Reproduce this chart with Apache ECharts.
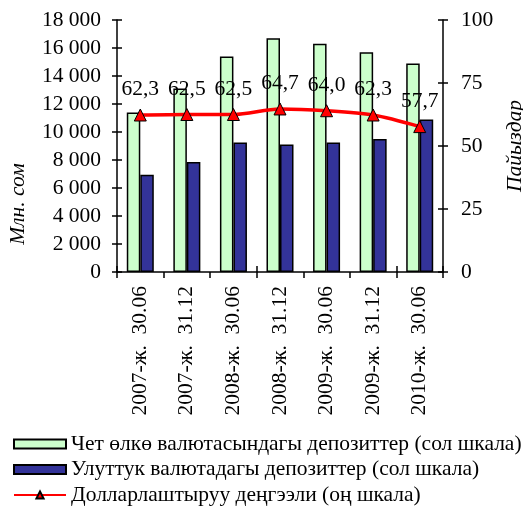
<!DOCTYPE html>
<html><head><meta charset="utf-8">
<script src="https://cdn.jsdelivr.net/npm/echarts@6/dist/echarts.min.js"></script>
<style>html,body{margin:0;padding:0;background:#fff}#c{width:523px;height:518px}</style>
</head><body><div id="c"></div>
<script>
var categories = ['2007-ж.  30.06','2007-ж.  31.12','2008-ж.  30.06','2008-ж.  31.12','2009-ж.  30.06','2009-ж.  31.12','2010-ж.  30.06'];
var foreignDeposits = [11400, 13100, 15400, 16700, 16300, 15700, 14900];
var nationalDeposits = [6950, 7850, 9250, 9100, 9250, 9500, 10900];
var dollarization = [62.3, 62.5, 62.5, 64.7, 64.0, 62.3, 57.7];
var leftTicks = [0, 18000, 2000];
var rightTicks = [0, 100, 25];
var names = ['Чет өлкө валютасындагы депозиттер (сол шкала)','Улуттук валютадагы депозиттер (сол шкала)','Долларлаштыруу деңгээли (оң шкала)'];
var leftAxisName = 'Млн. сом';
var rightAxisName = 'Пайыздар';

var F = 'Liberation Serif, Times New Roman, serif';
var FS = 21.5;
var chart = echarts.init(document.getElementById('c'));
function fmtThousands(v){ return String(v).replace(/\B(?=(\d{3})+(?!\d))/g, ' '); }
var axisLine = {show:true, lineStyle:{color:'#000', width:1.5}};
chart.setOption({
  backgroundColor:'#fff',
  animation:false,
  textStyle:{fontFamily:F},
  grid:{left:117, right:80, top:20, bottom:246, containLabel:false, outerBoundsMode:'none'},
  graphic:[{
    type:'text', x:18, y:204, rotation:Math.PI/2,
    style:{text:leftAxisName, fontFamily:F, fontSize:FS, fontStyle:'italic', fill:'#000', align:'center', verticalAlign:'middle'}
  }],
  legend:{
    orient:'vertical', left:13, top:433, padding:0, itemWidth:52, itemHeight:9, itemGap:3.5,
    textStyle:{fontFamily:F, fontSize:FS, color:'#000'},
    data:[{name:names[0], icon:'rect'},{name:names[1], icon:'rect'},{name:names[2]}]
  },
  xAxis:[{
    type:'category', data:categories,
    axisLine:axisLine,
    axisTick:{show:true, alignWithLabel:false, length:6, lineStyle:{color:'#000', width:1.5}},
    axisLabel:{rotate:90, fontFamily:F, fontSize:FS, color:'#000', margin:14}
  },{
    type:'category', data:categories, position:'bottom',
    axisLine:{show:false}, axisLabel:{show:false},
    axisTick:{show:true, inside:true, length:6, lineStyle:{color:'#000', width:1.5}}
  }],
  yAxis:[{
    type:'value', min:leftTicks[0], max:leftTicks[1], interval:leftTicks[2],
    axisLine:axisLine, splitLine:{show:false},
    axisTick:{show:true, length:5, lineStyle:{color:'#000', width:1.5}},
    axisLabel:{fontFamily:F, fontSize:FS, color:'#000', margin:16, formatter:fmtThousands}
  },{
    type:'value', position:'right', min:rightTicks[0], max:rightTicks[1], interval:rightTicks[2],
    name:rightAxisName, nameLocation:'middle', nameGap:60, nameRotate:90,
    nameTextStyle:{fontFamily:F, fontSize:FS, fontStyle:'italic', color:'#000'},
    axisLine:axisLine, splitLine:{show:false},
    axisTick:{show:true, length:5, lineStyle:{color:'#000', width:1.5}},
    axisLabel:{fontFamily:F, fontSize:FS, color:'#000', margin:18}
  },{
    type:'value', position:'left', min:leftTicks[0], max:leftTicks[1], interval:leftTicks[2],
    axisLine:{show:false}, axisLabel:{show:false}, splitLine:{show:false},
    axisTick:{show:true, inside:true, length:5, lineStyle:{color:'#000', width:1.5}}
  },{
    type:'value', position:'right', min:rightTicks[0], max:rightTicks[1], interval:rightTicks[2],
    axisLine:{show:false}, axisLabel:{show:false}, splitLine:{show:false},
    axisTick:{show:true, inside:true, length:5, lineStyle:{color:'#000', width:1.5}}
  }],
  series:[{
    name:names[0], type:'bar', data:foreignDeposits, yAxisIndex:0,
    barGap:'0%', barCategoryGap:'42%',
    itemStyle:{color:'#ccffcc', borderColor:'#000', borderWidth:1.5}
  },{
    name:names[1], type:'bar', data:nationalDeposits, yAxisIndex:0,
    barGap:'0%', barCategoryGap:'42%',
    itemStyle:{color:'#333399', borderColor:'#000', borderWidth:1.5}
  },{
    name:names[2], type:'line', data:dollarization, yAxisIndex:1, smooth:0.3,
    symbol:'triangle', symbolSize:12, z:5,
    lineStyle:{color:'#ff0000', width:3.5},
    itemStyle:{color:'#ff0000', borderColor:'#000', borderWidth:1},
    label:{show:true, position:'top', distance:8, fontFamily:F, fontSize:FS, color:'#000',
      formatter:function(p){return p.value.toFixed(1).replace('.', ',');}}
  }]
});
</script></body></html>
